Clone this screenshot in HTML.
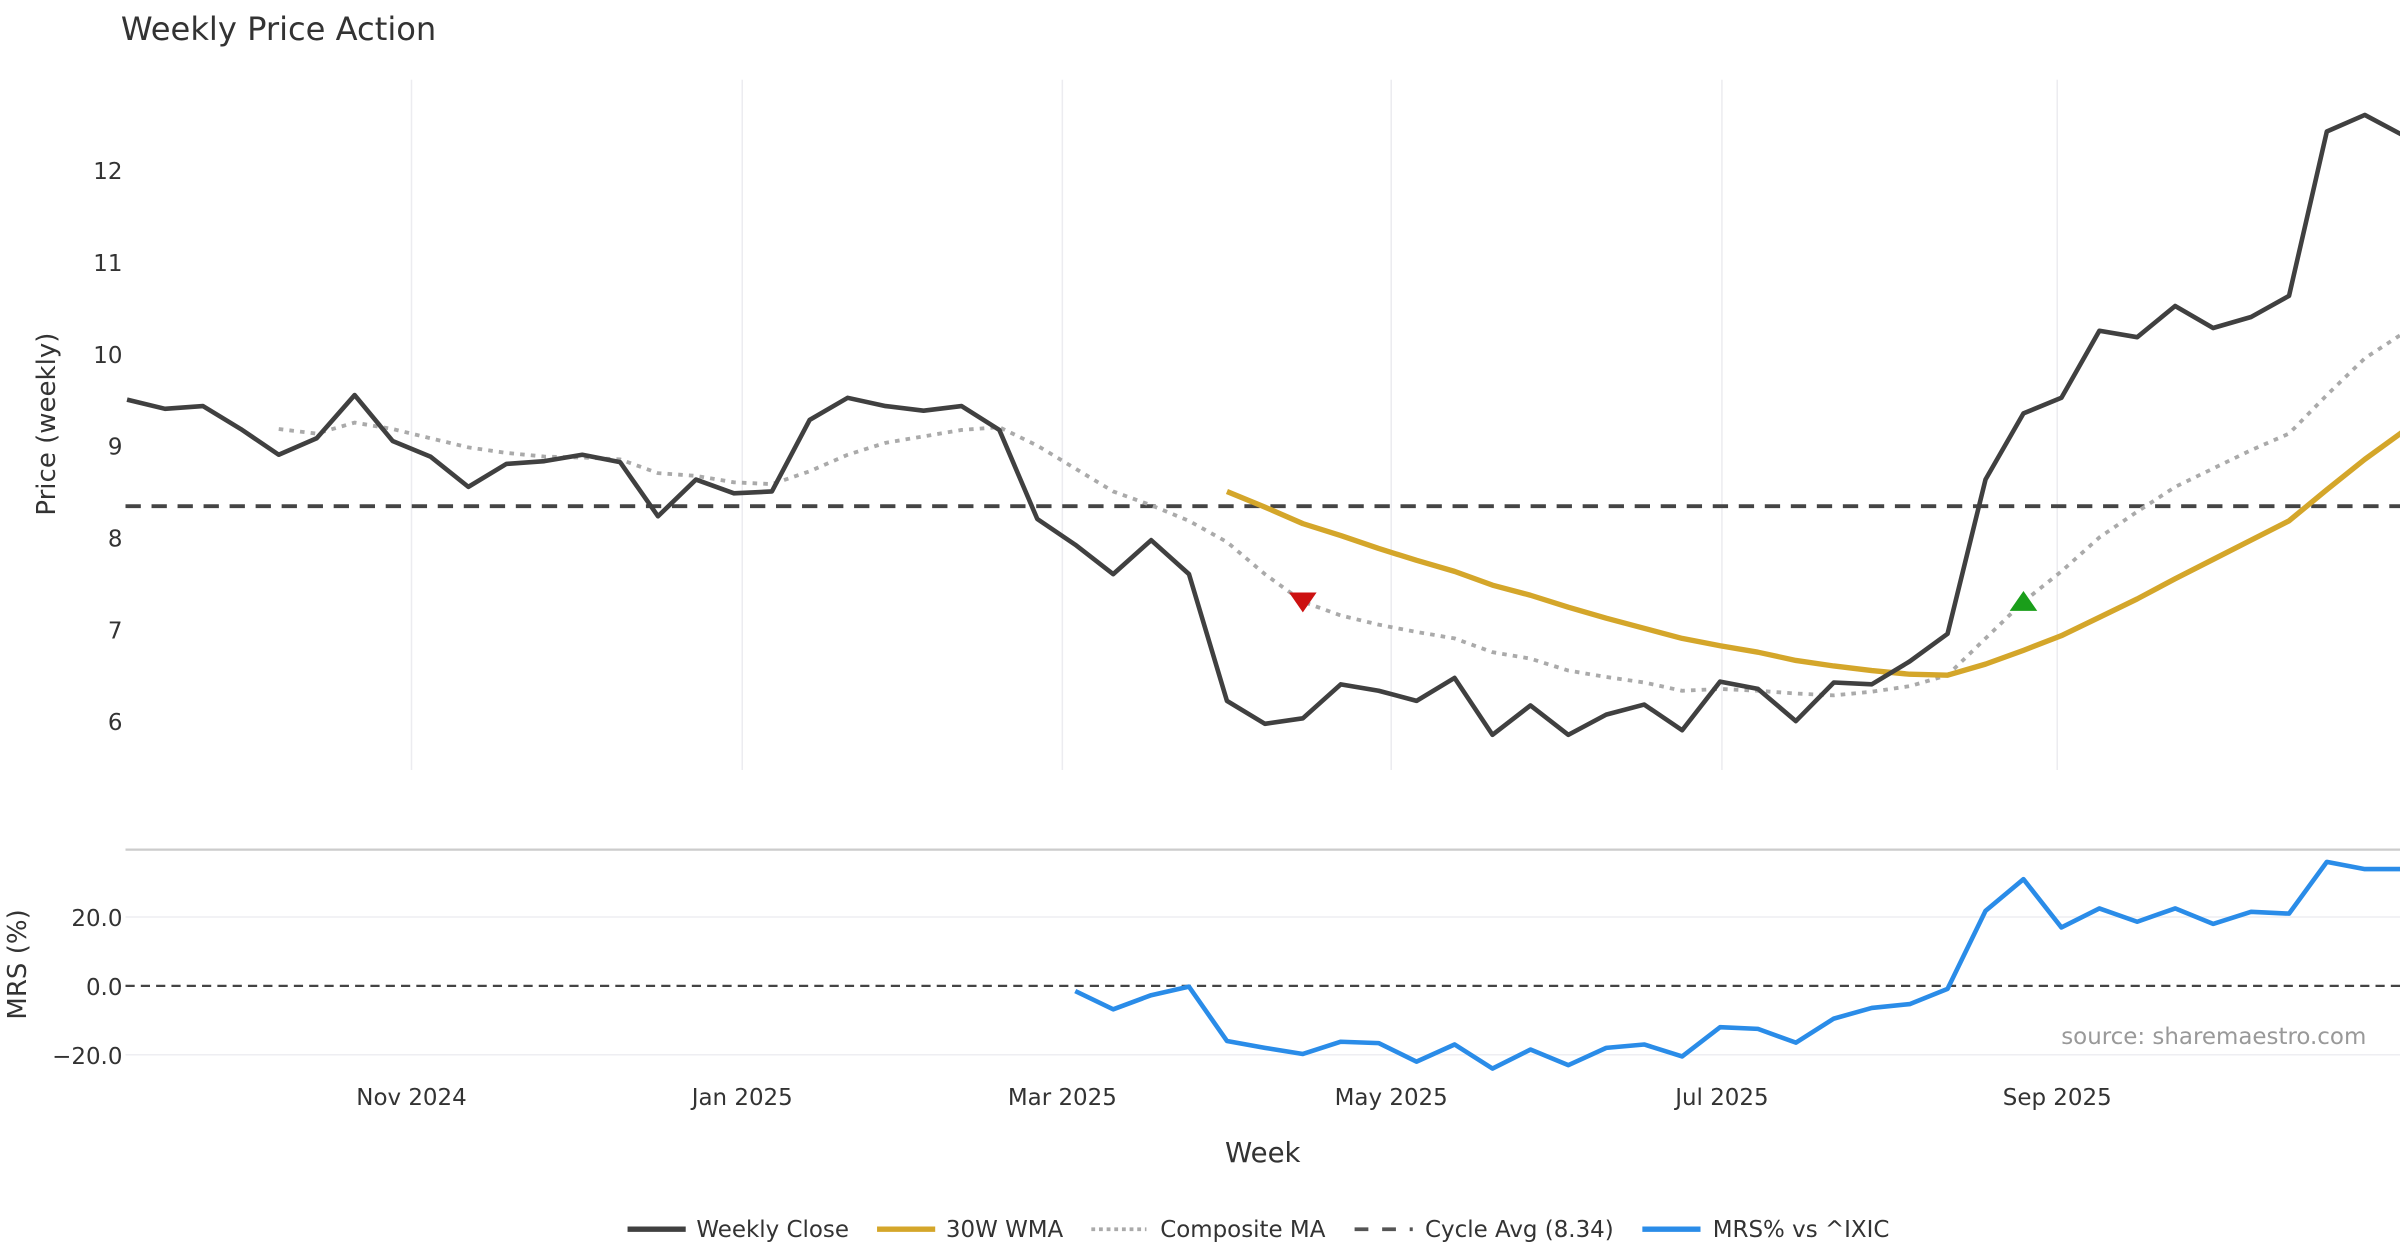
<!DOCTYPE html>
<html><head><meta charset="utf-8"><style>
html,body{margin:0;padding:0;background:#fff;}
svg{display:block;font-family:"DejaVu Sans","Liberation Sans",sans-serif;}
</style></head><body>
<svg id="chart" width="2400" height="1260" viewBox="0 0 1568 823" xmlns="http://www.w3.org/2000/svg">
<rect width="1568" height="823" fill="#fff"/>
<text x="79" y="26" font-size="21" fill="#333">Weekly Price Action</text>
<g id="grid"></g>
<g id="main"></g>
<g id="mrs"></g>
<g id="axes"></g>
<text transform="translate(36,277) rotate(-90)" text-anchor="middle" font-size="17" fill="#333">Price (weekly)</text>
<text transform="translate(17,630) rotate(-90)" text-anchor="middle" font-size="17" fill="#333">MRS (%)</text>
<text x="825" y="759" text-anchor="middle" font-size="18" fill="#333">Week</text>
<text x="1546" y="682" text-anchor="end" font-size="15" fill="#999">source: sharemaestro.com</text>
<g font-size="15" fill="#333">
<g><line x1="410" y1="803" x2="448" y2="803" stroke="#404040" stroke-width="3.5"/><text x="455" y="808">Weekly Close</text></g>
<g><line x1="573" y1="803" x2="611" y2="803" stroke="#d4a62a" stroke-width="3.5"/><text x="618" y="808">30W WMA</text></g>
<g><line x1="713" y1="803" x2="749" y2="803" stroke="#aaa" stroke-width="2.5" stroke-dasharray="2.5,2.5"/><text x="758" y="808">Composite MA</text></g>
<g><line x1="885" y1="803" x2="923" y2="803" stroke="#555" stroke-width="2.5" stroke-dasharray="9,9"/><text x="931" y="808">Cycle Avg (8.34)</text></g>
<g><line x1="1073" y1="803" x2="1111" y2="803" stroke="#2a8ce8" stroke-width="3.5"/><text x="1119" y="808">MRS% vs ^IXIC</text></g>
</g>
</svg>
<script>
const closeVals=[9.5,9.4,9.43,9.18,8.9,9.08,9.55,9.05,8.88,8.55,8.8,8.83,8.9,8.82,8.23,8.63,8.48,8.5,9.28,9.52,9.43,9.38,9.43,9.17,8.2,7.92,7.6,7.97,7.6,6.22,5.97,6.03,6.4,6.33,6.22,6.47,5.85,6.17,5.85,6.07,6.18,5.9,6.43,6.35,6.0,6.42,6.4,6.65,6.95,8.63,9.35,9.52,10.25,10.18,10.52,10.28,10.4,10.63,12.42,12.6,12.38];
const compStart=4;
const compVals=[9.18,9.13,9.25,9.18,9.08,8.98,8.92,8.88,8.87,8.85,8.7,8.67,8.6,8.58,8.72,8.9,9.03,9.1,9.17,9.2,9.0,8.75,8.5,8.35,8.18,7.95,7.6,7.3,7.15,7.05,6.97,6.9,6.75,6.68,6.55,6.48,6.42,6.33,6.35,6.33,6.3,6.28,6.32,6.38,6.5,6.9,7.3,7.63,8.0,8.28,8.55,8.75,8.95,9.13,9.55,9.95,10.22];
const wmaStart=29;
const wmaVals=[8.5,8.33,8.15,8.02,7.88,7.75,7.63,7.48,7.37,7.24,7.12,7.01,6.9,6.82,6.75,6.66,6.6,6.55,6.51,6.5,6.62,6.77,6.93,7.13,7.33,7.55,7.76,7.97,8.18,8.52,8.85,9.15];
const mrsStart=25;
const mrsVals=[-1.5,-6.8,-2.7,-0.2,-16,-18,-19.8,-16.2,-16.6,-22,-17,-24,-18.5,-23,-18,-17,-20.5,-12,-12.5,-16.5,-9.5,-6.4,-5.3,-0.9,21.8,31,17,22.5,18.6,22.5,18,21.5,21,36,33.9,33.9];
const cycleAvg=8.34;
const sellIdx=31, sellVal=7.3, buyIdx=50, buyVal=7.3;
const priceTicks=[6,7,8,9,10,11,12];
const mrsTicks=[-20,0,20];
const mrsTickLabels=["\u221220.0","0.0","20.0"];
const monthTicks=[7.5,16.22,24.66,33.33,42.05,50.89];
const monthLabels=["Nov 2024","Jan 2025","Mar 2025","May 2025","Jul 2025","Sep 2025"];

const NS="http://www.w3.org/2000/svg";
const X0=83,DX=24.78,L=82,R=1568;
const x=i=>X0+i*DX;
const yP=v=>471-(v-6)*60;
const yM=v=>644-v*2.25;
function mk(tag,attrs,parent){const e=document.createElementNS(NS,tag);for(const k in attrs)e.setAttribute(k,attrs[k]);parent.appendChild(e);return e;}
const grid=document.getElementById('grid'),main=document.getElementById('main'),mrs=document.getElementById('mrs'),axes=document.getElementById('axes');
monthTicks.forEach((m,k)=>{
  const gx=x(m);
  const g=mk('line',{x1:gx,y1:52,x2:gx,y2:503,stroke:'#ececf0','stroke-width':1},grid);
  
  
  const t=mk('text',{x:gx,y:722,'text-anchor':'middle','font-size':15,fill:'#333'},axes);
  t.textContent=monthLabels[k];
  
  
});
priceTicks.forEach(v=>{
  const t=mk('text',{x:80,y:yP(v)+6,'text-anchor':'end','font-size':15,fill:'#333'},axes);
  t.textContent=v;
  
  
});
mrsTicks.forEach((v,k)=>{
  if(v!==0){const g=mk('line',{x1:L,y1:yM(v),x2:R,y2:yM(v),stroke:'#eeeef2','stroke-width':1},grid);
  
  }
  const t=mk('text',{x:80,y:yM(v)+6,'text-anchor':'end','font-size':15,fill:'#333'},axes);
  t.textContent=mrsTickLabels[k];
  
  
});
const sep=mk('line',{x1:L,y1:555,x2:R,y2:555,stroke:'#ccc','stroke-width':1.5},grid);


function path(vals,start,yf){return vals.map((v,i)=>(i?'L':'M')+x(i+start).toFixed(1)+','+yf(v).toFixed(1)).join(' ');}
const cyc=mk('line',{x1:L,y1:yP(cycleAvg),x2:R,y2:yP(cycleAvg),stroke:'#444','stroke-width':2.5,'stroke-dasharray':'10,7'},main);


const comp=mk('path',{d:path(compVals,compStart,yP),fill:'none',stroke:'#aaa','stroke-width':2.5,'stroke-dasharray':'3,4'},main);


const wma=mk('path',{d:path(wmaVals,wmaStart,yP),fill:'none',stroke:'#d4a62a','stroke-width':3.5,'stroke-linejoin':'round'},main);


const cl=mk('path',{d:path(closeVals,0,yP),fill:'none',stroke:'#404040','stroke-width':3,'stroke-linejoin':'round'},main);


const sx=x(sellIdx),sy=yP(sellVal);
const sell=mk('polygon',{points:`${sx-9},${sy-6} ${sx+9},${sy-6} ${sx},${sy+7}`,fill:'#cc1111'},main);


const bx=x(buyIdx),by=yP(buyVal);
const buy=mk('polygon',{points:`${bx-9},${by+6} ${bx+9},${by+6} ${bx},${by-7}`,fill:'#1a9e1a'},main);


const z=mk('line',{x1:L,y1:yM(0),x2:R,y2:yM(0),stroke:'#444','stroke-width':1.5,'stroke-dasharray':'6,4'},mrs);


const ml=mk('path',{d:path(mrsVals,mrsStart,yM),fill:'none',stroke:'#2a8ce8','stroke-width':3,'stroke-linejoin':'round'},mrs);


</script>
</body></html>
